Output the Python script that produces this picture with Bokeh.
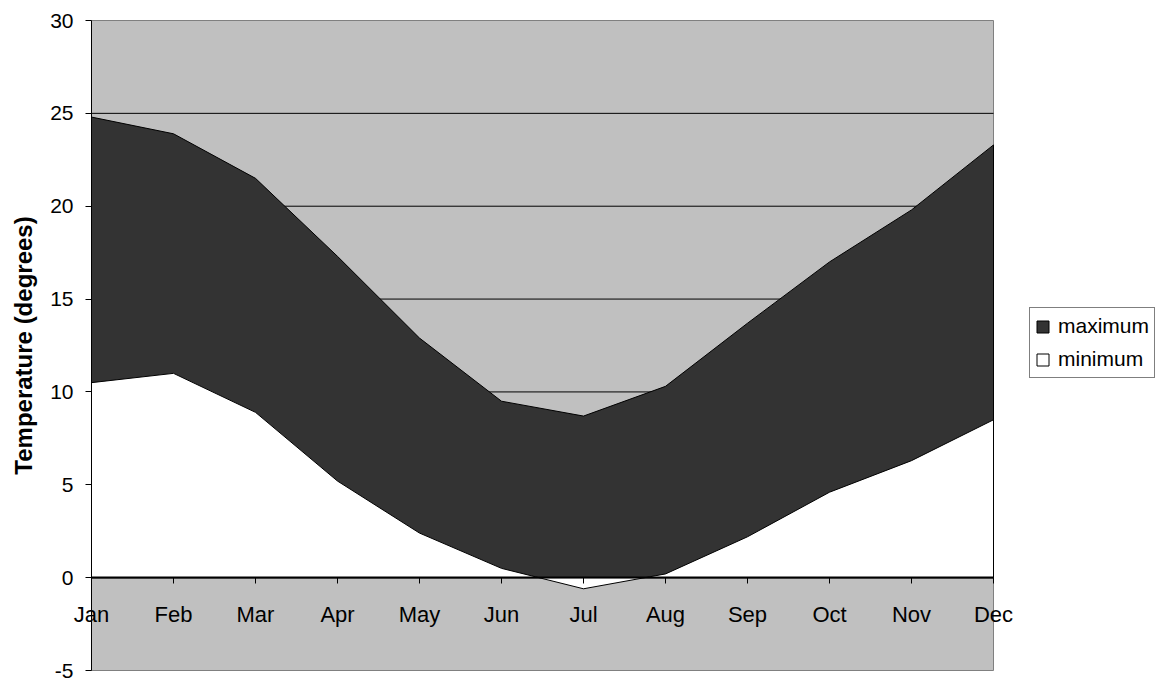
from bokeh.plotting import figure
from bokeh.models import (Range1d, FixedTicker, LinearAxis, Legend, LegendItem)
from bokeh.embed import file_html
from bokeh.resources import INLINE

# Monthly mean temperatures
months = ["Jan", "Feb", "Mar", "Apr", "May", "Jun",
          "Jul", "Aug", "Sep", "Oct", "Nov", "Dec"]
maximum = [24.8, 23.9, 21.5, 17.3, 12.9, 9.5, 8.7, 10.3, 13.7, 17.0, 19.8, 23.3]
minimum = [10.5, 11.0, 8.9, 5.2, 2.4, 0.5, -0.6, 0.2, 2.2, 4.6, 6.3, 8.5]
y_ticks = [-5, 0, 5, 10, 15, 20, 25, 30]

FONT = "Liberation Sans"
idx = list(range(len(months)))
x0, x1 = idx[0], idx[-1]
y0, y1 = y_ticks[0], y_ticks[-1]

# Canvas geometry: plot box sits at 91..993 px horizontally, 20..670 px vertically
W, H = 1159, 681
BOX_L, BOX_R, BOX_T, BOX_B = 91, 993, 20, 670
sx = (BOX_R - BOX_L) / (x1 - x0)
sy = (BOX_B - BOX_T) / (y1 - y0)
xr = Range1d(x0 - BOX_L / sx, x1 + (W - BOX_R) / sx)
yr = Range1d(y0 - (H - BOX_B) / sy, y1 + BOX_T / sy)

p = figure(width=W, height=H, x_range=xr, y_range=yr, output_backend="svg",
           toolbar_location=None, x_axis_location=None, y_axis_location=None,
           min_border=0)
p.background_fill_color = "white"
p.border_fill_color = "white"
p.outline_line_color = None
p.xgrid.grid_line_color = None
p.ygrid.grid_line_color = None

# grey plot box
p.quad(left=x0, right=x1, bottom=y0, top=y1, fill_color="#C0C0C0",
       line_color="#808080", line_width=1)

# horizontal gridlines
inner = y_ticks[1:-1]
p.segment(x0=[x0] * len(inner), x1=[x1] * len(inner), y0=inner, y1=inner,
          line_color="black", line_width=1)

# areas: maximum first, minimum drawn over it
poly_x = idx + idx[::-1]
max_r = p.patch(poly_x, maximum + [0] * len(idx), fill_color="#333333",
                line_color="black", line_width=1)
min_r = p.patch(poly_x, minimum + [0] * len(idx), fill_color="white",
                line_color="black", line_width=1)

# y axis along the left edge of the box
yax = LinearAxis(ticker=FixedTicker(ticks=y_ticks), fixed_location=x0,
                 bounds=(y0, y1))
yax.major_label_overrides = {t: str(t) for t in y_ticks}
yax.axis_label = "Temperature (degrees)"
yax.axis_label_text_font = FONT
yax.axis_label_text_font_style = "bold"
yax.axis_label_text_font_size = "24px"
yax.axis_label_text_color = "black"
yax.axis_label_standoff = 10
yax.major_label_text_font = FONT
yax.major_label_text_font_size = "21px"
yax.major_label_text_color = "black"
yax.major_label_standoff = 12
yax.major_tick_in = 0
yax.major_tick_out = 6
yax.major_tick_line_color = "black"
yax.minor_tick_line_color = None
yax.axis_line_color = "black"
yax.axis_line_width = 1
p.add_layout(yax, "left")

# x axis crossing at zero
xax = LinearAxis(ticker=FixedTicker(ticks=idx), fixed_location=0,
                 bounds=(x0, x1))
xax.major_label_overrides = {i: m for i, m in zip(idx, months)}
xax.major_label_text_font = FONT
xax.major_label_text_font_size = "22px"
xax.major_label_text_color = "black"
xax.major_label_standoff = 18
xax.major_tick_in = 0
xax.major_tick_out = 6
xax.major_tick_line_color = "black"
xax.minor_tick_line_color = None
xax.axis_line_color = "black"
xax.axis_line_width = 2
p.add_layout(xax, "below")

legend = Legend(items=[LegendItem(label="maximum", renderers=[max_r]),
                       LegendItem(label="minimum", renderers=[min_r])],
                location=(1029, H - 378))
legend.label_text_font = FONT
legend.label_text_font_size = "21px"
legend.label_text_color = "black"
legend.glyph_width = 15
legend.glyph_height = 15
legend.label_height = 26
legend.label_standoff = 8
legend.spacing = 7
legend.padding = 5
legend.margin = 0
legend.border_line_color = "black"
legend.border_line_width = 1
legend.background_fill_color = "white"
legend.background_fill_alpha = 1
p.add_layout(legend, "center")

open("out.html", "w").write(file_html(p, INLINE))
